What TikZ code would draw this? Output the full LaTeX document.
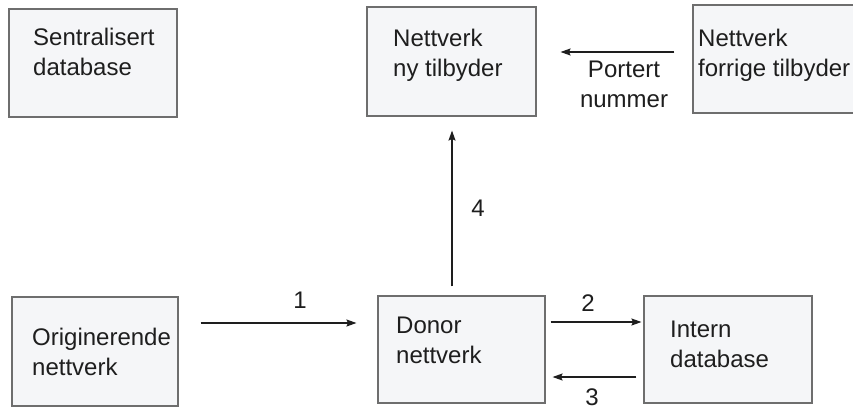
\documentclass[tikz,border=0pt]{standalone}
\usepackage{fontspec}
\setmainfont{Liberation Sans}
\usetikzlibrary{arrows.meta}
\definecolor{boxfill}{HTML}{F5F6F8}
\definecolor{boxline}{HTML}{6E6E6E}
\definecolor{ink}{HTML}{1E1E1E}
\begin{document}
\begin{tikzpicture}[x=1pt,y=-1pt,
  box/.style={draw=boxline, line width=1.1pt, fill=boxfill, inner sep=0pt},
  txt/.style={inner sep=0pt, text=ink, font=\fontsize{24}{29.5}\selectfont, align=left, anchor=base west},
  lbl/.style={inner sep=0pt, text=ink, font=\fontsize{24}{29.5}\selectfont},
  arr/.style={draw=ink, line width=1.2pt, -{Stealth[length=10pt,width=7pt,inset=1.5pt]}}]
\clip (0,0) rectangle (853,410);
\fill[white] (0,0) rectangle (853,410);
% boxes
\node[box, minimum width=168pt, minimum height=108pt] (sent) at (93,63) {};
\node[box, minimum width=169pt, minimum height=109pt] (ny) at (451.5,61.5) {};
\node[box, minimum width=177pt, minimum height=108pt] (forr) at (781.5,59) {};
\node[box, minimum width=166pt, minimum height=109pt] (orig) at (95,351.5) {};
\node[box, minimum width=167pt, minimum height=107pt] (donor) at (461.5,349.5) {};
\node[box, minimum width=168pt, minimum height=107pt] (intern) at (728,349.5) {};
% texts (anchor = baseline of last line)
\node[txt] (tsent) at (33,75) {Sentralisert\\database};
\node[txt] (tny) at (393,76) {Nettverk\\ny tilbyder};
\node[txt] (tforr) at (698,76) {Nettverk\\forrige tilbyder};
\node[txt] (torig) at (32,375) {Originerende\\nettverk};
\node[txt] (tdonor) at (396,363) {Donor\\nettverk};
\node[txt] (tintern) at (670,367) {Intern\\database};
\node[lbl, align=center, anchor=base] (port) at (624,107) {Portert\\nummer};
% connectors
\draw[arr, shorten <=22pt, shorten >=21pt] (orig.east |- 0,323) -- (donor.west |- 0,323);
\draw[arr, shorten <=5pt, shorten >=2pt] (donor.east |- 0,322) -- (intern.west |- 0,322);
\draw[arr, shorten <=7pt, shorten >=7pt] (intern.west |- 0,377) -- (donor.east |- 0,377);
\draw[arr, shorten <=9pt, shorten >=14pt] (donor.north -| 452,0) -- (ny.south -| 452,0);
\draw[arr, shorten <=18pt, shorten >=24pt] (forr.west |- 0,52) -- (ny.east |- 0,52);
% numbers
\node[lbl] (n1) at (300,300) {1};
\node[lbl] (n2) at (588,303) {2};
\node[lbl] (n3) at (592,397) {3};
\node[lbl] (n4) at (478,208) {4};
\end{tikzpicture}
\end{document}
